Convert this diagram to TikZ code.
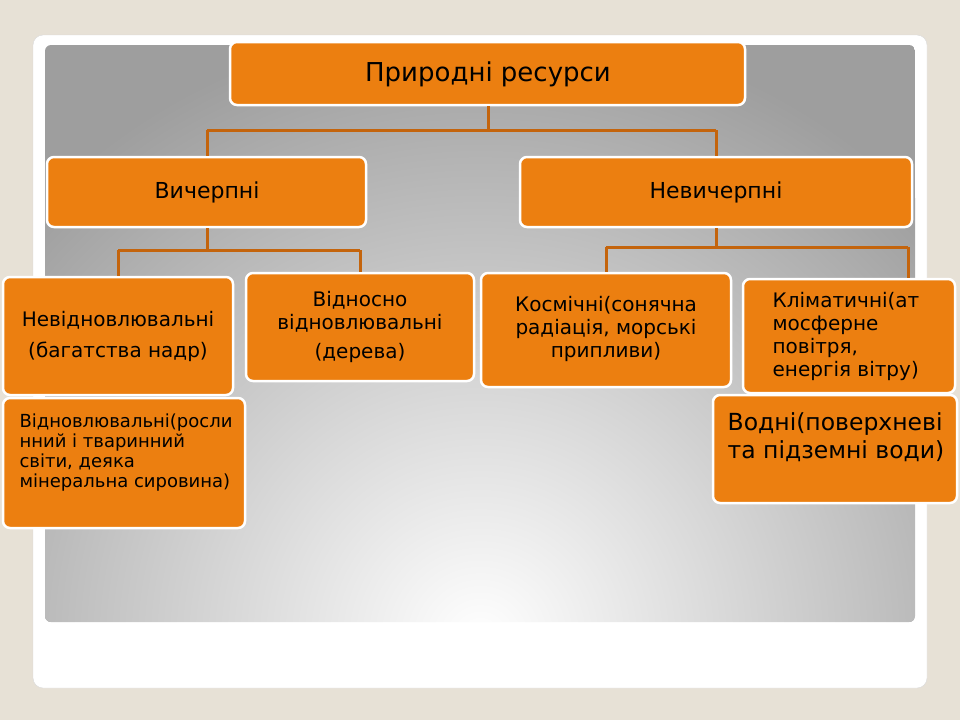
\documentclass[tikz,border=0pt]{standalone}
\usepackage{fontspec}
\setmainfont{DejaVu Sans}
\begin{document}
\begin{tikzpicture}[x=1pt,y=-1pt,
  box/.style={draw=white,line width=2.5pt,fill=boxor,rounded corners=7pt,inner sep=0pt},
  lbl/.style={align=center,font=\fontsize{20}{23}\selectfont,text=black},
  conn/.style={draw=lineor,line width=3pt}]
\definecolor{boxor}{HTML}{EC7F10}
\definecolor{lineor}{HTML}{C4640C}
\definecolor{bgbeige}{HTML}{E7E1D6}
\fill[bgbeige] (0,0) rectangle (960,720);
\useasboundingbox (0,0) rectangle (960,720);
\fill[white,rounded corners=10pt] (33,35) rectangle (927,688);
\draw[black!15,rounded corners=10pt] (33,35) rectangle (927,688);
\begin{scope}
\clip[rounded corners=6pt] (45,45) rectangle (915,622);
\fill[black!38] (45,45) rectangle (915,622);
\shade[inner color=white,outer color=black!38] (480,640) circle (620);
\end{scope}
% boxes
\draw[box] (230,42) rectangle (745,105);
\node[lbl,font=\fontsize{26}{30}\selectfont] (top) at (488,74) {Природні ресурси};
\draw[box] (47,157) rectangle (366,227);
\node[lbl,font=\fontsize{22}{26}\selectfont] (v) at (207,192) {Вичерпні};
\draw[box] (520,157) rectangle (912,227);
\node[lbl,font=\fontsize{22}{26}\selectfont] (n) at (716,192) {Невичерпні};
\draw[box] (3,277) rectangle (233,395);
\node[lbl] (nv) at (118,336) {Невідновлювальні\\[8pt](багатства надр)};
\draw[box] (246,273) rectangle (474,381);
\node[lbl] (vd) at (360,327) {Відносно\\відновлювальні\\[6pt](дерева)};
\draw[box] (481,273) rectangle (731,387);
\node[lbl] (k) at (606,329) {Космічні(сонячна\\радіація, морські\\припливи)};
\draw[box] (743,279) rectangle (955,393);
\node[lbl,align=left] (kl) at (846,336) {Кліматичні(ат\\мосферне\\повітря,\\енергія вітру)};
\draw[box] (3,398) rectangle (245,528);
\node[lbl,align=left,font=\fontsize{18}{20}\selectfont] (vn) at (126,453) {Відновлювальні(росли\\нний і тваринний\\світи, деяка\\мінеральна сировина)};
\draw[box] (713,395) rectangle (957,503);
\node[lbl,align=left,font=\fontsize{23.5}{28}\selectfont] (vod) at (836,437) {Водні(поверхневі\\та підземні води)};
% connectors
\coordinate (t1) at (488,106); \coordinate (t2) at (488,130);
\coordinate (a1) at (207,130); \coordinate (a2) at (716,130);
\draw[conn] (t1) -- (t2) (a1) -- (a2) (a1) -- (207,156) (a2) -- (716,156);
\coordinate (b0) at (207,228); \coordinate (b1) at (118,250); \coordinate (b2) at (360,250);
\draw[conn] (b0) -- (207,250) (b1) -- (b2) (b1) -- (118,276) (b2) -- (360,272);
\coordinate (c0) at (716,228); \coordinate (c1) at (606,247); \coordinate (c2) at (908,247);
\draw[conn] (c0) -- (716,247) (c1) -- (c2) (c1) -- (606,272) (c2) -- (908,278);
\end{tikzpicture}
\end{document}
